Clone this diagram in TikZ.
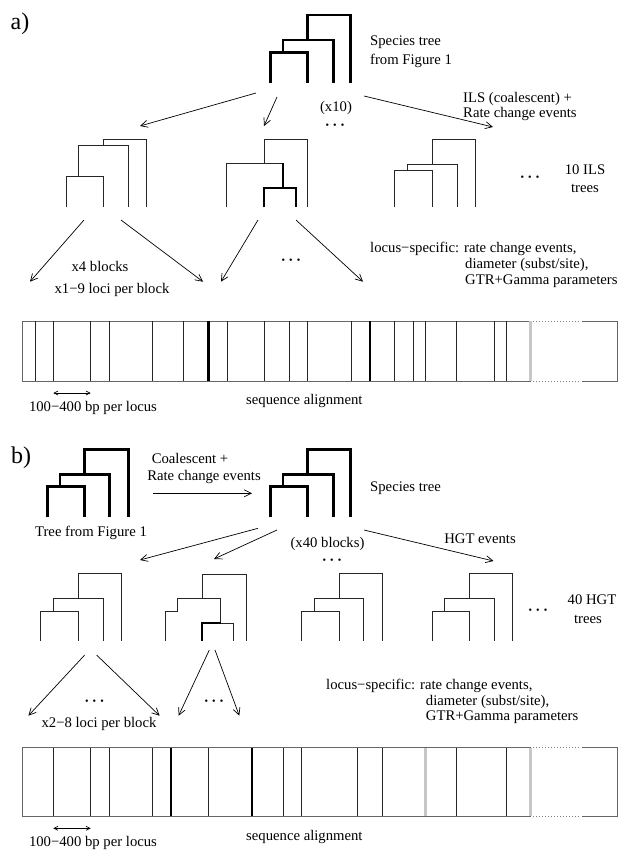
\documentclass[tikz,border=0pt]{standalone}
\usepackage{fontspec}
\setmainfont{Liberation Serif}
\usetikzlibrary{arrows.meta}
\newcommand{\mydots}{•\hspace{4.2pt}•\hspace{4.2pt}•}
\tikzset{
  lbl/.style={inner sep=0pt, font=\fontsize{14.7}{17}\selectfont},
  big/.style={inner sep=0pt, font=\fontsize{24}{28}\selectfont},
  dots/.style={inner sep=0pt, font=\fontsize{10}{12}\selectfont},
  ttree/.style={line width=0.9pt, draw=black!85, line join=miter},
  stree/.style={line width=2.8pt, draw=black, line join=miter},
  htree/.style={line width=2.2pt, draw=black, line join=miter},
  arr/.style={line width=0.7pt, -{Straight Barb[length=7pt,width=7pt]}},
  darr/.style={line width=0.7pt, {Straight Barb[length=4pt,width=4pt]}-{Straight Barb[length=4pt,width=4pt]}},
  bout/.style={line width=1pt, draw=black!60},
  bline/.style={line width=0.8pt, draw=black!85},
  bthick/.style={line width=2.4pt, draw=black},
  bgray/.style={line width=2.6pt, draw=black!22},
  bdot/.style={line width=1pt, draw=black!50, dotted},
}
\begin{document}
\begin{tikzpicture}[x=1pt,y=-1pt]
\useasboundingbox (0,0) rectangle (618,851);

% ================= a) =================
\node[big] (la) at (20,24) {a)};

% species tree a
\draw[stree] (270.4,82.7) |- (307.8,52.3) -- (307.8,82.7);
\draw[stree] (283,52.3) |- (333.5,40) -- (333.5,82.7);
\draw[stree] (307.8,40) |- (350.8,15) -- (350.8,82.7);
\node[lbl, anchor=west] (st1) at (370,41.7) {Species tree};
\node[lbl, anchor=west] (st2) at (370,60.8) {from Figure 1};

\node[lbl, anchor=west] (ils1) at (463,99) {ILS (coalescent) +};
\node[lbl, anchor=west] (ils2) at (463,114) {Rate change events};
\node[lbl] (x10) at (336,108) {(x10)};
\node[dots] (d1) at (335,126) {\mydots};

% arrows from species tree a
\coordinate (sa1) at (256,93);
\coordinate (sa2) at (277,97);
\coordinate (sa3) at (364,96);
\coordinate (ta1) at (140,126);
\coordinate (ta2) at (264,126);
\coordinate (ta3) at (493,127);
\draw[arr] (sa1) -- (ta1);
\draw[arr] (sa2) -- (ta2);
\draw[arr] (sa3) -- (ta3);

% tree a1
\draw[ttree] (66,207.3) |- (103.3,176.7) -- (103.3,207.3);
\draw[ttree] (78.8,176.7) |- (128,145) -- (128,207.3);
\draw[ttree] (103.3,145) |- (146.6,139) -- (146.6,207.3);
% tree a2
\draw[ttree] (264,163.3) |- (307.7,139.3) -- (307.7,207.3);
\draw[ttree] (226.7,207.3) |- (282.7,163.3);
\draw[htree] (282.7,163.3) -- (282.7,188.3);
\draw[htree] (264,207.3) |- (296,188.3) -- (296,207.3);
% tree a3
\draw[ttree] (394.2,207.3) |- (432.8,170) -- (432.8,207.3);
\draw[ttree] (407.2,170) |- (457.2,164.3) -- (457.2,207.3);
\draw[ttree] (432.8,164.3) |- (475,139) -- (475,207.3);

\node[dots] (d2) at (530,178) {\mydots};
\node[lbl] (ils3) at (585,169.3) {10 ILS};
\node[lbl] (ils4) at (585,188.3) {trees};

% arrows to alignment a
\coordinate (sb1) at (84,220);
\coordinate (sb2) at (121,220);
\coordinate (sb3) at (258,220);
\coordinate (sb4) at (296,220);
\coordinate (tb1) at (30,281.7);
\coordinate (tb2) at (203,281.7);
\coordinate (tb3) at (221,281.7);
\coordinate (tb4) at (363,281.7);
\draw[arr] (sb1) -- (tb1);
\draw[arr] (sb2) -- (tb2);
\draw[arr] (sb3) -- (tb3);
\draw[arr] (sb4) -- (tb4);

\node[lbl] (x4) at (100,266) {x4 blocks};
\node[lbl] (x19) at (112,290) {x1−9 loci per block};
\node[dots] (d3) at (291,261.7) {\mydots};
\node[lbl, anchor=west] (ls1) at (370,249) {locus−specific: rate change events,};
\node[lbl, anchor=west] (ls2) at (465,265) {diameter (subst/site),};
\node[lbl, anchor=west] (ls3) at (465,280.7) {GTR+Gamma parameters};

% alignment a
\draw[bout] (531,321) -- (22.3,321) -- (22.3,381) -- (531,381);
\draw[bout] (581.7,321) -- (617.3,321) -- (617.3,381) -- (581.7,381);
\draw[bdot] (533,321) -- (580,321);
\draw[bdot] (533,381) -- (580,381);
\foreach \x in {35,53.3,90.7,109.3,152.7,183.7,227.3,264.3,289.3,307.3,351.3,394.7,413.3,425.7,456.7,494,506.3}
  \draw[bline] (\x,321) -- (\x,381);
\foreach \x in {208.3,369.7}
  \draw[bthick] (\x,321) -- (\x,381);
\draw[bgray] (530.5,321) -- (530.5,381);

\coordinate (pa1) at (53.3,393);
\coordinate (pa2) at (90.7,393);
\draw[darr] (pa1) -- (pa2);
\node[lbl] (bp1) at (93,408) {100−400 bp per locus};
\node[lbl, anchor=west] (sq1) at (246,401) {sequence alignment};

% ================= b) =================
\node[big] (lb) at (21,458) {b)};

% tree from figure 1
\draw[stree] (47.3,517.3) |- (84.7,486.7) -- (84.7,517.3);
\draw[stree] (60,486.7) |- (109.6,474.3) -- (109.6,517.3);
\draw[stree] (84.7,474.3) |- (128.1,449.3) -- (128.1,517.3);
\node[lbl] (tf) at (91,533.3) {Tree from Figure 1};

\node[lbl] (co1) at (190,458.3) {Coalescent +};
\node[lbl] (co2) at (204,476.7) {Rate change events};
\coordinate (hc1) at (153,493.3);
\coordinate (hc2) at (252,493.3);
\draw[arr] (hc1) -- (hc2);

% species tree b
\draw[stree] (270.4,517.3) |- (307.8,486.7) -- (307.8,517.3);
\draw[stree] (283,486.7) |- (333.5,474.3) -- (333.5,517.3);
\draw[stree] (307.8,474.3) |- (350.8,449.3) -- (350.8,517.3);
\node[lbl, anchor=west] (st3) at (370,488.3) {Species tree};

% arrows from species tree b
\coordinate (sc1) at (258,528.3);
\coordinate (sc2) at (277,530);
\coordinate (sc3) at (364,530);
\coordinate (tc1) at (140,560);
\coordinate (tc2) at (214,559);
\coordinate (tc3) at (493.5,561);
\draw[arr] (sc1) -- (tc1);
\draw[arr] (sc2) -- (tc2);
\draw[arr] (sc3) -- (tc3);
\node[lbl] (x40) at (327.5,544) {(x40 blocks)};
\node[dots] (d4) at (332,561) {\mydots};
\node[lbl] (hgt) at (480,538.3) {HGT events};

% tree b1
\draw[ttree] (40.6,641) |- (78,611) -- (78,641);
\draw[ttree] (53.2,611) |- (103.3,598.3) -- (103.3,641);
\draw[ttree] (78,598.3) |- (121.4,573.3) -- (121.4,641);
% tree b2
\draw[ttree] (202.3,598.7) |- (246,574) -- (246,641);
\draw[ttree] (165,641) |- (177.3,611.3) |- (220.7,598.7) -- (220.7,623.3) -| (233.3,641);
\draw[htree] (220.7,623.3) -| (202.3,641);
% tree b3
\draw[ttree] (301.5,641) |- (339,611) -- (339,641);
\draw[ttree] (314.2,611) |- (363.4,598.3) -- (363.4,641);
\draw[ttree] (339,598.3) |- (382.3,573.3) -- (382.3,641);
% tree b4
\draw[ttree] (432.8,641) |- (469,611) -- (469,641);
\draw[ttree] (444.6,611) |- (494.7,598.3) -- (494.7,641);
\draw[ttree] (469,598.3) |- (512.4,573.3) -- (512.4,641);

\node[dots] (d5) at (538,611) {\mydots};
\node[lbl] (hg1) at (592,600) {40 HGT};
\node[lbl] (hg2) at (588,619.3) {trees};

% arrows to alignment b
\coordinate (sd1) at (84.7,655);
\coordinate (sd2) at (96.6,655);
\coordinate (sd3) at (209.3,650);
\coordinate (sd4) at (215,650);
\coordinate (td1) at (28.4,715.7);
\coordinate (td2) at (159.6,715.7);
\coordinate (td3) at (178.6,715.7);
\coordinate (td4) at (239.3,715.7);
\draw[arr] (sd1) -- (td1);
\draw[arr] (sd2) -- (td2);
\draw[arr] (sd3) -- (td3);
\draw[arr] (sd4) -- (td4);
\node[dots] (d6) at (94.5,702.3) {\mydots};
\node[dots] (d7) at (214,702.3) {\mydots};
\node[lbl] (x28) at (99,724.3) {x2−8 loci per block};
\node[lbl, anchor=west] (ls4) at (326,686) {locus−specific: rate change events,};
\node[lbl, anchor=west] (ls5) at (425.7,702.3) {diameter (subst/site),};
\node[lbl, anchor=west] (ls6) at (425.7,717.3) {GTR+Gamma parameters};

% alignment b
\draw[bout] (531,747.7) -- (22.3,747.7) -- (22.3,816) -- (531,816);
\draw[bout] (581.7,747.7) -- (617.3,747.7) -- (617.3,816) -- (581.7,816);
\draw[bdot] (533,747.7) -- (580,747.7);
\draw[bdot] (533,816) -- (580,816);
\foreach \x in {53.3,90.7,109.3,152.7,208.3,283,301.7,357.7,382.3,456.7,506.7}
  \draw[bline] (\x,747.7) -- (\x,816);
\foreach \x in {171,251.7}
  \draw[bthick] (\x,747.7) -- (\x,816);
\foreach \x in {425.7,530.7}
  \draw[bgray] (\x,747.7) -- (\x,816);

\coordinate (pb1) at (53.3,828.3);
\coordinate (pb2) at (90.7,828.3);
\draw[darr] (pb1) -- (pb2);
\node[lbl] (bp2) at (93,842.7) {100−400 bp per locus};
\node[lbl, anchor=west] (sq2) at (246,837.3) {sequence alignment};
\end{tikzpicture}
\end{document}
